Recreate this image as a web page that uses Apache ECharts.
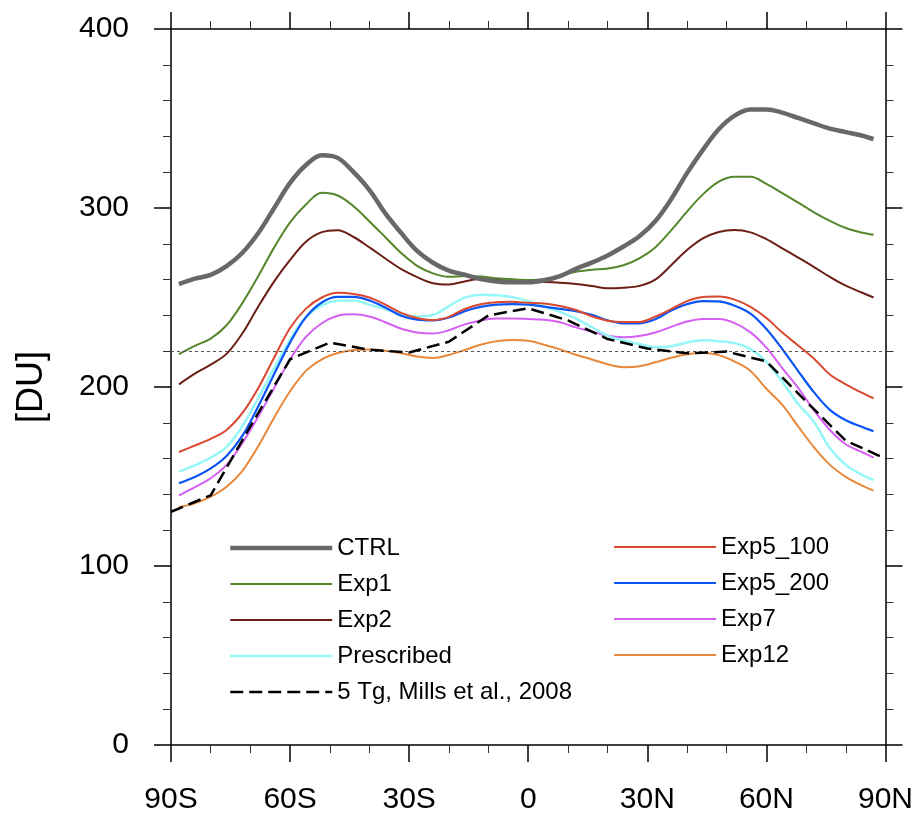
<!DOCTYPE html>
<html>
<head>
<meta charset="utf-8">
<script src="https://cdn.jsdelivr.net/npm/echarts@6/dist/echarts.min.js"></script>
<style>
html,body{margin:0;padding:0;background:#fff;}
#chart{width:916px;height:815px;}
</style>
</head>
<body>
<div id="chart"></div>
<script>
// Latitudes of model output (degrees, negative = south)
var lats = [-88,-84,-80,-76,-72,-68,-64,-60,-56,-52,-48,-44,-40,-36,-32,-28,-24,-20,-16,-12,-8,-4,0,4,8,12,16,20,24,28,32,36,40,44,48,52,56,60,64,68,72,76,80,84,87];

var ctrl = [257.5,260.5,262.6,267.5,275,286,300,314,324,329.5,328,320,310,297,286,276,269.4,265,262.7,260.3,259,258.5,258.5,259.6,262,266,269.5,273.5,278.5,284.2,292.6,304.9,319.5,332.5,344,351.6,355,355,353.3,350.3,347.3,344.3,342.4,340.5,338.5];
var exp1 = [218.4,223,227,234.5,247,262,278,292,302,308.5,307,301,292.5,283.7,274.8,267.7,263.5,261.6,262,261.7,260.8,260.2,259.8,260.2,262.3,264.4,265.5,266.2,268,271.9,278,287.5,298,307.6,314.7,317.4,317.4,313.5,308.3,303,297.6,292.8,288.8,286.3,285];
var exp2 = [201.5,207.5,212.5,218.5,230,245,259,271,281.2,286.5,287.6,283.8,278,271.8,265.8,261.4,258,257.3,259,260.3,259.9,259.2,258.8,258.6,258.2,257.5,256.4,255.2,255.5,256.5,260,268,276.5,283,286.6,287.7,286.4,282.6,277.5,272.3,267,261.5,256.6,252.8,250];
var prescribed = [152.7,156.2,160.5,166.5,178.2,193.9,210.5,226.5,239,245.5,248.2,248.3,246,243.5,240.5,239.4,240.2,245.2,249.9,251.5,251.2,250.1,248,245,242,238.2,233.4,228.6,226,224,222.3,222.8,224.9,226.1,225.6,224.5,221.2,214,203,190.5,180.4,165.8,156.5,151,148];
var exp5_100 = [163.7,167.3,171,176,185.5,199.5,216.5,233,243.8,250,252.6,252,250,246,241.4,238.6,237.4,239.2,243.6,246.2,247.4,247.6,247,246.6,245.2,243,239.5,237,236.3,236.3,239.3,243.5,248,250.3,250.5,248.8,244.7,238.5,230.4,223.2,215.8,207,201.5,196.8,193.7];
var exp5_200 = [146.2,149.7,154.5,161.5,172.8,189.3,207.3,224.8,239,247.2,250.3,250.3,248.3,244.4,239.8,237.6,237.2,238.8,242.4,244.8,246,246.3,246,244.9,243.6,242.3,240.3,237.2,235.6,235.6,237.8,242.7,246.3,248,247.8,245.4,241,232.4,221.2,208.9,197,187.2,181.4,177.8,175.3];
var exp7 = [139.3,144,149,156.5,168.7,183.5,199.5,215.4,228,235.6,239.8,240.6,239.4,236.2,232.5,230.5,229.9,231.7,235,237.2,238.2,238.3,238,237.6,236.2,233.3,231,228.6,227.8,228.5,230.4,233.6,236.6,238,238,235.7,230.5,222,210.5,199.5,186.9,176,168,163.7,160.5];
var exp12 = [133,135,138.7,144.3,153.2,167,183,197.6,209,215.5,219,220.7,221,220.2,218.9,217,216.2,217.9,220.7,223.6,225.5,226.2,225.8,223.6,221,218,215.4,212.7,211.1,211.6,213.8,216.3,218.3,219,217.8,214.2,209,199,190,178,166.3,156.5,149.8,145,142.1];

// Mills et al., 2008 (5 Tg)
var millsLat = [-90,-80,-70,-60,-50,-40,-30,-20,-10,0,10,20,30,40,50,60,70,80,90];
var mills = [130.3,139.5,178,215.5,224.8,220.8,219.3,225.3,240,244,237.2,226.8,221.5,218.8,219.8,214.3,192,170,160];

var refLevel = 220;
var xTicks = {'-90':'90S','-60':'60S','-30':'30S','0':'0','30':'30N','60':'60N','90':'90N'};

function pairs(xs, ys){ return xs.map(function(x,i){ return [x, ys[i]]; }); }

var FONT = '"Liberation Sans", Arial, Helvetica, sans-serif';
var chart = echarts.init(document.getElementById('chart'), null, {renderer:'canvas'});

function modelSeries(name, vals, color, width, z){
  return {
    name: name, type: 'line', data: pairs(lats, vals),
    xAxisIndex: 0, yAxisIndex: 0,
    smooth: 0.35, symbol: 'none', showSymbol: false,
    lineStyle: {color: color, width: width},
    itemStyle: {color: color},
    z: z, animation: false
  };
}

var axisCommon = {
  axisLine: {show: true, onZero: false, lineStyle: {color: '#000', width: 1.5}},
  axisTick: {show: true, inside: false, length: 17, lineStyle: {color: '#000', width: 1.5}},
  splitLine: {show: false}
};

var series = [
  modelSeries('Exp12', exp12, '#e8883a', 2, 2),
  modelSeries('Exp7', exp7, '#d45ff2', 2, 2),
  modelSeries('Prescribed', prescribed, '#96f6f8', 2.5, 2),
  modelSeries('Exp5_200', exp5_200, '#0b55f5', 2.2, 3),
  modelSeries('Exp5_100', exp5_100, '#d9482f', 2, 3),
  modelSeries('Exp2', exp2, '#6b1f16', 2, 3),
  modelSeries('Exp1', exp1, '#55862c', 2, 3),
  modelSeries('CTRL', ctrl, '#686868', 4.5, 4),
  {
    name: '5 Tg, Mills et al., 2008', type: 'line', data: pairs(millsLat, mills),
    smooth: false, symbol: 'none', showSymbol: false,
    lineStyle: {color: '#000', width: 2.5, type: [13, 6]},
    itemStyle: {color: '#000'}, z: 5, animation: false,
    markLine: {
      silent: true, symbol: 'none', animation: false,
      label: {show: false},
      lineStyle: {color: '#555', width: 1, type: [3, 3]},
      emphasis: {disabled: true},
      data: [{yAxis: refLevel}]
    }
  }
];

var legendText = {fontSize: 24, color: '#000', fontFamily: FONT};
var legendCommon = {
  orient: 'vertical', padding: 0,
  itemWidth: 102, itemHeight: 24, itemGap: 12,
  selectedMode: false, textStyle: legendText,
  itemStyle: {opacity: 0},
  lineStyle: {width: 'inherit', type: 'inherit', opacity: 1}
};

var option = {
  backgroundColor: '#fff',
  animation: false,
  textStyle: {fontFamily: FONT},
  grid: {left: 171, right: 29, top: 29, bottom: 70, containLabel: false},
  legend: [
    Object.assign({
      data: ['CTRL','Exp1','Exp2','Prescribed','5 Tg, Mills et al., 2008'],
      left: 228, top: 536
    }, legendCommon),
    Object.assign({
      data: ['Exp5_100','Exp5_200','Exp7','Exp12'],
      left: 613, top: 535
    }, legendCommon)
  ],
  xAxis: [
    Object.assign({
      type: 'value', min: -90, max: 90, interval: 30, position: 'bottom',
      minorTick: {show: true, splitNumber: 3, length: 8, lineStyle: {color: '#333', width: 1}},
      axisLabel: {show: true, fontSize: 30, color: '#000', margin: 40, fontFamily: FONT,
        formatter: function(v){ return xTicks[String(v)] !== undefined ? xTicks[String(v)] : ''; }}
    }, axisCommon),
    Object.assign({
      type: 'value', min: -90, max: 90, interval: 30, position: 'top',
      minorTick: {show: true, splitNumber: 3, length: 8, lineStyle: {color: '#333', width: 1}},
      axisLabel: {show: false}
    }, axisCommon)
  ],
  yAxis: [
    Object.assign({
      type: 'value', min: 0, max: 400, interval: 100, position: 'left',
      minorTick: {show: true, splitNumber: 5, length: 8, lineStyle: {color: '#333', width: 1}},
      axisLabel: {show: true, fontSize: 30, color: '#000', margin: 42, fontFamily: FONT},
      name: '[DU]', nameLocation: 'middle', nameGap: 121, nameRotate: 90,
      nameTextStyle: {fontSize: 36, color: '#000', fontFamily: FONT}
    }, axisCommon),
    Object.assign({
      type: 'value', min: 0, max: 400, interval: 100, position: 'right',
      minorTick: {show: true, splitNumber: 5, length: 8, lineStyle: {color: '#333', width: 1}},
      axisLabel: {show: false}
    }, axisCommon)
  ],
  series: series
};
chart.setOption(option);
</script>
</body>
</html>
